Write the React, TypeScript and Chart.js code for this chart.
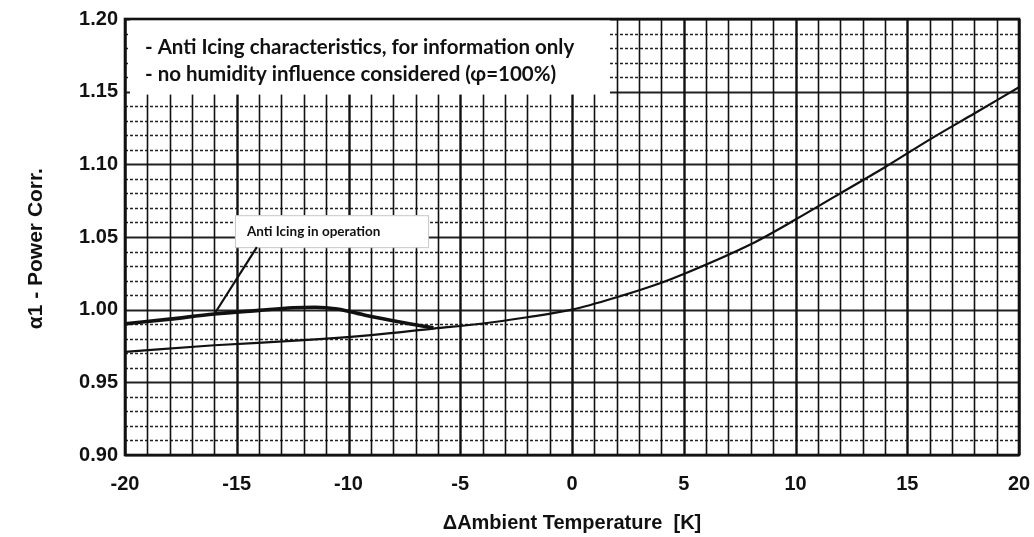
import React, { useEffect, useRef } from "react";
import { Chart, registerables } from "chart.js";

Chart.register(...registerables);

// Main correction curve (no anti icing)
const mainTemps = [-20, -16, -12, -9, -6.2, -4, -2, 0, 2, 4, 5, 8, 10, 12, 14, 16, 18, 20];
const mainCorr = [0.971, 0.9755, 0.979, 0.9825, 0.987, 0.9905, 0.9948, 1.0, 1.0085, 1.0185, 1.0245, 1.045, 1.062, 1.08, 1.098, 1.117, 1.135, 1.153];

// Anti icing in operation curve
const aiTemps = [-20, -18, -16, -14, -12.5, -11.5, -10.5, -9.2, -7.7, -6.2];
const aiCorr = [0.9902, 0.9935, 0.997, 0.9995, 1.0013, 1.0017, 1.0005, 0.996, 0.9915, 0.9875];

const xTickMin = -20;
const xTickMax = 20;
const xTickStep = 5;
const yTickMin = 0.9;
const yTickMax = 1.2;
const yTickStep = 0.05;

const noteLines = [
  "- Anti Icing characteristics, for information only",
  "- no humidity influence considered (\u03c6=100%)",
];
const aiLabel = "Anti Icing in operation";
const xTitle = "\u0394Ambient Temperature  [K]";
const yTitle = "\u03b11 - Power Corr.    ";

const gridPlugin = {
  id: "paperGrid",
  beforeDatasetsDraw(chart: any) {
    const { ctx, chartArea } = chart;
    const xs = chart.scales.x;
    const ys = chart.scales.y;
    const { left, right, top, bottom } = chartArea;
    ctx.save();
    ctx.fillStyle = "#ffffff";
    ctx.fillRect(left, top, right - left, bottom - top);
    // horizontal lines every 0.01
    for (let j = 0; j <= 30; j++) {
      const v = yTickMin + j * 0.01;
      const y = Math.round(ys.getPixelForValue(v)) + 0.5;
      ctx.beginPath();
      if (j % 5 === 0) {
        ctx.setLineDash([]);
        ctx.lineWidth = 2;
        ctx.strokeStyle = "#222";
      } else {
        ctx.setLineDash([3, 2]);
        ctx.lineWidth = 1.4;
        ctx.strokeStyle = "#222";
      }
      ctx.moveTo(left, y);
      ctx.lineTo(right, y);
      ctx.stroke();
    }
    ctx.setLineDash([]);
    // vertical lines every 1 K
    for (let k = xTickMin; k <= xTickMax; k++) {
      const x = Math.round(xs.getPixelForValue(k)) + 0.5;
      ctx.beginPath();
      ctx.lineWidth = k % 5 === 0 ? 2.4 : 1.6;
      ctx.strokeStyle = "#111";
      ctx.moveTo(x, top);
      ctx.lineTo(x, bottom);
      ctx.stroke();
    }
    // white note box in the top-left
    const bx0 = left + 5;
    const bx1 = xs.getPixelForValue(1.7);
    const by1 = ys.getPixelForValue(1.148);
    ctx.fillStyle = "#ffffff";
    ctx.fillRect(bx0, top + 1, bx1 - bx0, by1 - top - 1);
    ctx.restore();
  },
  afterDatasetsDraw(chart: any) {
    const { ctx, chartArea } = chart;
    const xs = chart.scales.x;
    const ys = chart.scales.y;
    const { left, right, top, bottom } = chartArea;
    ctx.save();
    // notes
    ctx.fillStyle = "#111";
    ctx.font = "bold 20.5px Lato, 'Open Sans', sans-serif";
    ctx.textBaseline = "middle";
    ctx.textAlign = "left";
    ctx.fillText(noteLines[0], left + 20, ys.getPixelForValue(1.1805));
    ctx.fillText(noteLines[1], left + 20, ys.getPixelForValue(1.162));

    // anti icing label box
    const x0 = xs.getPixelForValue(-15.08);
    const x1 = xs.getPixelForValue(-6.44);
    const y0 = ys.getPixelForValue(1.065);
    const y1 = ys.getPixelForValue(1.043);
    ctx.fillStyle = "#ffffff";
    ctx.fillRect(x0, y0, x1 - x0, y1 - y0);
    ctx.strokeStyle = "#c8c8c8";
    ctx.lineWidth = 1;
    ctx.strokeRect(x0 + 0.5, y0 + 0.5, x1 - x0, y1 - y0);
    ctx.fillStyle = "#111";
    ctx.font = "bold 13.5px Lato, 'Open Sans', sans-serif";
    ctx.fillText(aiLabel, x0 + 12, (y0 + y1) / 2);
    // pointer
    const idx = aiTemps.indexOf(-16);
    ctx.beginPath();
    ctx.strokeStyle = "#111";
    ctx.lineWidth = 2.2;
    ctx.moveTo(xs.getPixelForValue(-14.1), y1);
    ctx.lineTo(xs.getPixelForValue(aiTemps[idx]), ys.getPixelForValue(aiCorr[idx]));
    ctx.stroke();

    // frame
    ctx.lineWidth = 2.6;
    ctx.strokeStyle = "#111";
    ctx.strokeRect(left, top, right - left, bottom - top);
    ctx.restore();
  },
};

export default function App() {
  const ref = useRef<HTMLCanvasElement>(null);
  useEffect(() => {
    if (!ref.current) return;
    const chart = new Chart(ref.current, {
      type: "line",
      data: {
        datasets: [
          {
            label: "Power correction",
            data: mainTemps.map((t, i) => ({ x: t, y: mainCorr[i] })),
            borderColor: "#111",
            borderWidth: 2.2,
            pointRadius: 0,
            cubicInterpolationMode: "monotone",
            fill: false,
          },
          {
            label: "Anti icing in operation",
            data: aiTemps.map((t, i) => ({ x: t, y: aiCorr[i] })),
            borderColor: "#111",
            borderWidth: 3.6,
            pointRadius: 0,
            cubicInterpolationMode: "monotone",
            fill: false,
          },
        ],
      },
      options: {
        animation: false,
        responsive: false,
        layout: { padding: { left: 0, right: 15, top: 18, bottom: 0 } },
        plugins: { legend: { display: false }, tooltip: { enabled: false } },
        scales: {
          x: {
            type: "linear",
            min: xTickMin,
            max: xTickMax,
            grid: { display: false, drawTicks: true, tickLength: 17 },
            border: { display: false },
            ticks: {
              stepSize: xTickStep,
              padding: 0,
              color: "#111",
              font: { family: "'Liberation Sans', Arial, sans-serif", size: 20, weight: "bold" },
            },
            title: {
              display: true,
              text: xTitle,
              color: "#111",
              padding: { top: 0, bottom: 2 },
              font: { family: "'Liberation Sans', Arial, sans-serif", size: 20, weight: "bold" },
            },
            afterFit: (s: any) => {
              s.height = 82;
            },
          },
          y: {
            type: "linear",
            min: yTickMin,
            max: yTickMax,
            grid: { display: false, drawTicks: false },
            border: { display: false },
            ticks: {
              stepSize: yTickStep,
              padding: 7,
              color: "#111",
              font: { family: "'Liberation Sans', Arial, sans-serif", size: 20, weight: "bold" },
              callback: (v: any) => Number(v).toFixed(2),
            },
            title: {
              display: true,
              text: yTitle,
              color: "#111",
              padding: { top: 24, bottom: 0 },
              font: { family: "'Liberation Sans', Arial, sans-serif", size: 21, weight: "bold" },
            },
            afterFit: (s: any) => {
              s.width = 125;
            },
          },
        },
      },
      plugins: [gridPlugin],
    });
    return () => chart.destroy();
  }, []);
  return (
    <div style={{ position: "fixed", left: 0, top: 0, width: 1034, height: 537, background: "#fff" }}>
      <canvas ref={ref} width={1034} height={537} />
    </div>
  );
}
